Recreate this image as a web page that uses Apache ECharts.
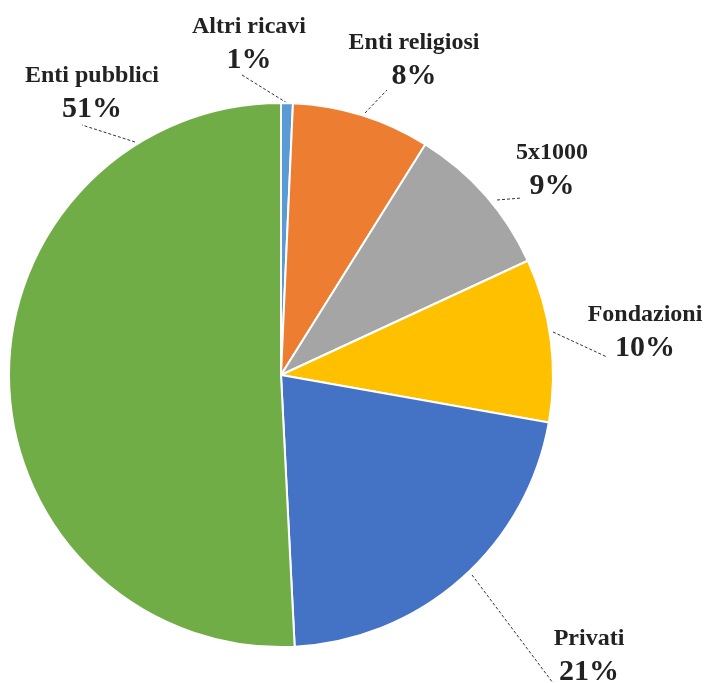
<!DOCTYPE html>
<html>
<head>
<meta charset="utf-8">
<script src="https://cdn.jsdelivr.net/npm/echarts@6/dist/echarts.min.js"></script>
<style>html,body{margin:0;padding:0;background:#fff}#c{width:709px;height:683px}</style>
</head>
<body>
<div id="c"></div>
<script>
const categories = ['Altri ricavi', 'Enti religiosi', '5x1000', 'Fondazioni', 'Privati', 'Enti pubblici'];
const values = [0.7, 8.2, 9.2, 9.7, 21.4, 50.8];
const colors = ['#5B9BD5', '#ED7D31', '#A5A5A5', '#FFC000', '#4472C4', '#70AD47'];

// label placement (layout only): label centre and leader line endpoints
const labelPlace = [
  {c: [249, 44], a: [287, 103], b: [242, 75]},
  {c: [414, 60], a: [365, 113], b: [387, 90]},
  {c: [552, 170], a: [497, 200], b: [522, 198]},
  {c: [645, 332], a: [553, 332], b: [607, 357]},
  {c: [589, 656], a: [472, 575], b: [553, 683]},
  {c: [92, 93], a: [135, 142], b: [82, 125]}
];

const chart = echarts.init(document.getElementById('c'));
chart.setOption({
  animation: false,
  series: [{
    type: 'pie',
    center: [281, 375],
    radius: 272,
    startAngle: 90,
    clockwise: true,
    avoidLabelOverlap: false,
    data: categories.map((n, i) => ({name: n, value: values[i], itemStyle: {color: colors[i]}})),
    itemStyle: {borderColor: '#fff', borderWidth: 2},
    label: {
      show: true,
      position: 'outside',
      formatter: p => '{n|' + p.name + '}\n{p|' + Math.round(p.percent) + '%}',
      rich: {
        n: {fontFamily: 'Liberation Serif', fontWeight: 'bold', fontSize: 24, color: '#222', lineHeight: 32, align: 'center'},
        p: {fontFamily: 'Liberation Serif', fontWeight: 'bold', fontSize: 30, color: '#222', lineHeight: 34, align: 'center'}
      }
    },
    labelLine: {show: true, length: 20, length2: 0, lineStyle: {color: '#333', width: 1, type: [3, 2]}},
    labelLayout: function (params) {
      const L = labelPlace[params.dataIndex];
      return {
        x: L.c[0], y: L.c[1], align: 'center', verticalAlign: 'middle',
        hideOverlap: false,
        labelLinePoints: [L.a, L.b, L.b]
      };
    }
  }]
});
</script>
</body>
</html>
